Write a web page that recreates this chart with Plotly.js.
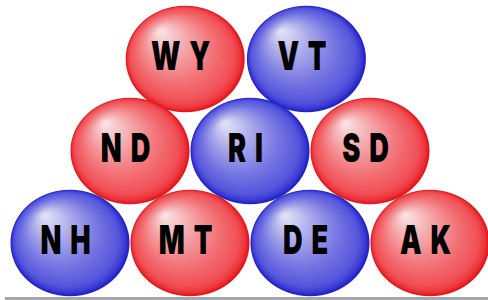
<!DOCTYPE html>
<html>
<head>
<meta charset="utf-8">
<script src="https://cdn.plot.ly/plotly-3.0.1.min.js"></script>
<style>
html,body{margin:0;padding:0;background:#fff;}
#chart{width:488px;height:300px;}
#chart .textpoint text{transform-box:fill-box;transform-origin:center;transform:translateY(1px) scaleX(0.68);letter-spacing:13px;}
</style>
</head>
<body>
<div id="chart"></div>
<script>
// Data
var states = ['WY','VT','ND','RI','SD','NH','MT','DE','AK'];
var party  = ['R','D','R','D','R','D','R','D','R'];
var col    = [0.96, 1.97, 0.5, 1.5, 2.5, 0.0, 1.0, 2.0, 3.0];
var row    = [2, 2, 1, 1, 1, 0, 0, 0, 0];

var RX = 0.496, RY = 0.58;
var stops = {
  R: [[0,[230,22,28]],[0.04,[236,52,58]],[0.12,[240,80,86]],[0.35,[242,112,116]],[0.6,[244,152,156]],[0.85,[246,198,200]],[1,[248,228,228]]],
  D: [[0,[34,34,200]],[0.04,[58,58,212]],[0.12,[86,86,220]],[0.35,[116,116,226]],[0.6,[156,156,232]],[0.85,[200,200,240]],[1,[226,226,246]]]
};
function colorAt(p, t){
  var s = stops[p];
  for (var k=1;k<s.length;k++){
    if (t<=s[k][0]){
      var a=s[k-1], b=s[k], f=(t-a[0])/(b[0]-a[0]);
      var c=a[1].map(function(v,j){return Math.round(v+(b[1][j]-v)*f);});
      return 'rgb('+c.join(',')+')';
    }
  }
  return 'rgb('+s[s.length-1][1].join(',')+')';
}

var shapes = [];
var N = 44;
for (var b=0;b<states.length;b++){
  var cx=col[b], cy=row[b];
  var ox=-0.42*RX, oy=0.52*RY;
  for (var i=0;i<N;i++){
    var t=i/N;
    var sc=1-t*0.97;
    var x=cx+ox*t, y=cy+oy*t;
    shapes.push({type:'circle', layer:'below', xref:'x', yref:'y',
      x0:x-RX*sc, x1:x+RX*sc, y0:y-RY*sc, y1:y+RY*sc,
      fillcolor:colorAt(party[b], t), line:{width:0}});
  }
}
shapes.push({type:'line', layer:'below', xref:'paper', yref:'paper',
  x0:0.01, x1:1, y0:0.005, y1:0.005, line:{color:'#a3a7ab', width:3}});

var trace = {
  type:'scatter', mode:'text', x:col, y:row, text:states,
  textposition:'middle center', hoverinfo:'skip',
  textfont:{family:'Inter, Roboto, DejaVu Sans, sans-serif', size:40, color:'#000', weight:900}
};

var layout = {
  width:488, height:300, margin:{l:0,r:0,t:0,b:0},
  paper_bgcolor:'#fff', plot_bgcolor:'#fff', showlegend:false,
  xaxis:{range:[-70/120, 418/120], visible:false, fixedrange:true},
  yaxis:{range:[-57/92, 243/92], visible:false, fixedrange:true},
  shapes:shapes
};
Plotly.newPlot('chart',[trace],layout,{staticPlot:true, displayModeBar:false});
</script>
</body>
</html>
